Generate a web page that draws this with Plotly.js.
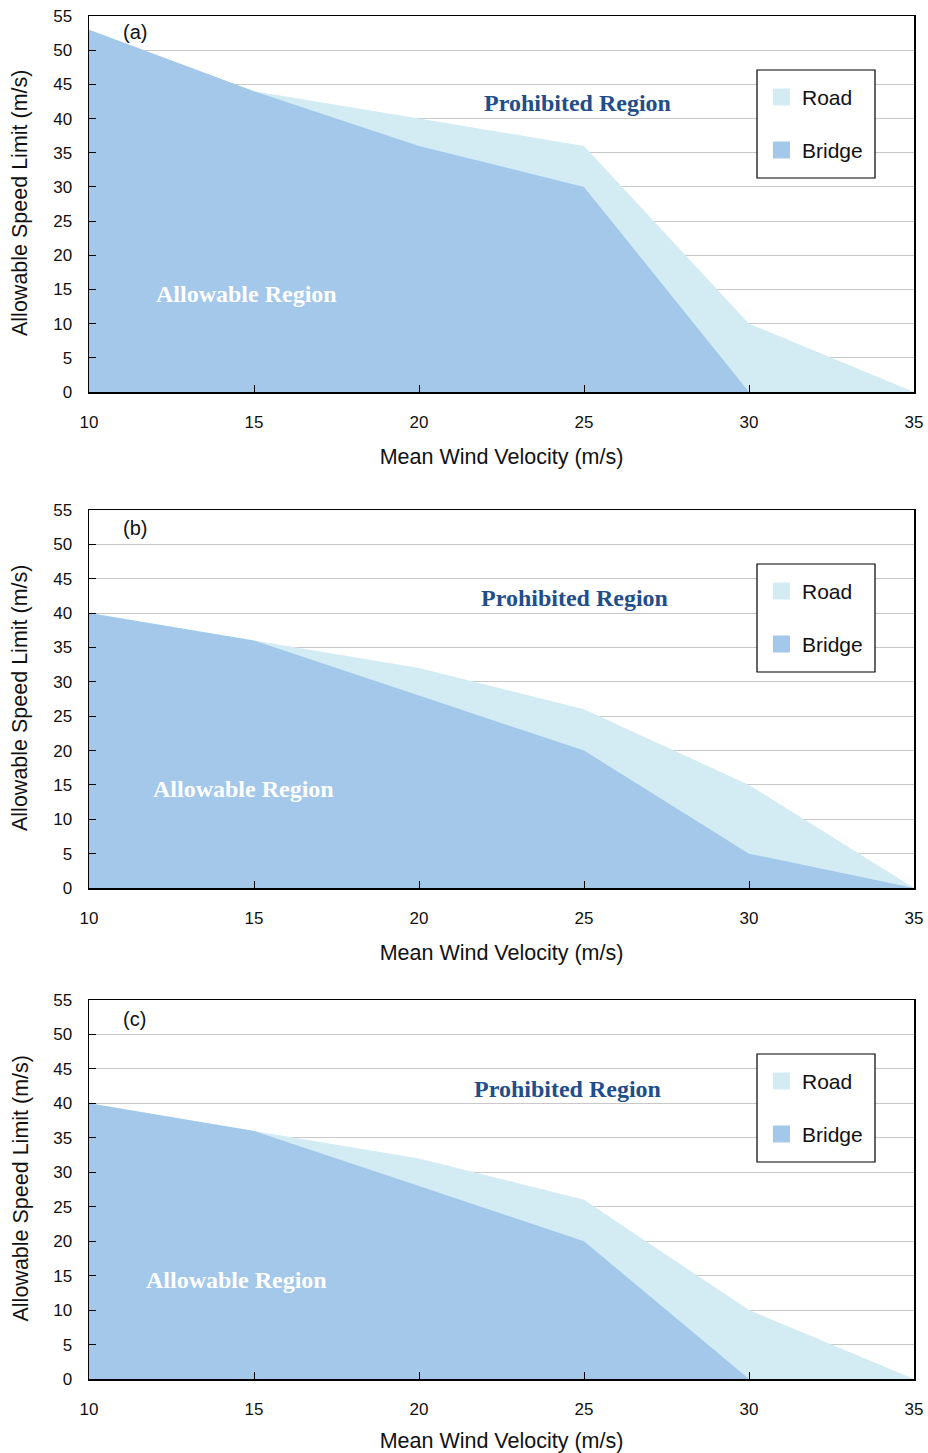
<!DOCTYPE html>
<html><head><meta charset="utf-8">
<script src="https://cdn.plot.ly/plotly-3.0.1.min.js"></script>
<style>html,body{margin:0;padding:0;background:#fff}#chart{width:928px;height:1453px}</style>
</head><body><div id="chart"></div>
<script>
// Data
const windVelocity = [10, 15, 20, 25, 30, 35];
const panelLabels = ['(a)', '(b)', '(c)'];
const roadA   = [53, 44, 40, 36, 10, 0];
const bridgeA = [53, 44, 36, 30, 0, 0];
const roadB   = [40, 36, 32, 26, 15, 0];
const bridgeB = [40, 36, 28, 20, 5, 0];
const roadC   = [40, 36, 32, 26, 10, 0];
const bridgeC = [40, 36, 28, 20, 0, 0];
const seriesNames = ['Road', 'Bridge'];
const xTicks = [10, 15, 20, 25, 30, 35];
const yTicks = [0, 5, 10, 15, 20, 25, 30, 35, 40, 45, 50, 55];
const xTitle = 'Mean Wind Velocity (m/s)';
const yTitle = 'Allowable Speed Limit (m/s)';

const roadColor = '#d3ecf3';
const bridgeColor = '#a3c8ea';
const FONT = 'Liberation Sans, Arial, Helvetica, sans-serif';
const SERIF = 'Liberation Serif, Times New Roman, serif';

const W = 928, H = 1453;
const mL = 89, mR = 14, mT = 16, mB = 74;
const plotH = H - mT - mB;
const px2x = px => (px - mL) / (W - mL - mR);
const px2y = py => (H - mB - py) / plotH;

const panels = [
  {road: roadA, bridge: bridgeA, top: 16, bottom: 392, prohib: [24.8, 42.3], allow: [14.76, 14.3], lab: 52.7},
  {road: roadB, bridge: bridgeB, top: 510, bottom: 888, prohib: [24.7, 42.2], allow: [14.67, 14.4], lab: 52.4},
  {road: roadC, bridge: bridgeC, top: 1000, bottom: 1379, prohib: [24.5, 42.1], allow: [14.48, 14.4], lab: 52.2}
];

const data = [];
const layout = {
  width: W, height: H,
  margin: {l: mL, r: mR, t: mT, b: mB},
  paper_bgcolor: '#fff', plot_bgcolor: '#fff',
  showlegend: false,
  font: {family: FONT, size: 17, color: '#111'},
  shapes: [], annotations: []
};

panels.forEach((p, i) => {
  const xa = i === 0 ? 'x' : 'x' + (i + 1);
  const ya = i === 0 ? 'y' : 'y' + (i + 1);
  const xk = i === 0 ? 'xaxis' : 'xaxis' + (i + 1);
  const yk = i === 0 ? 'yaxis' : 'yaxis' + (i + 1);
  data.push({x: windVelocity, y: p.road, type: 'scatter', mode: 'lines', fill: 'tozeroy',
    fillcolor: roadColor, line: {width: 0, color: roadColor}, name: seriesNames[0], xaxis: xa, yaxis: ya, hoverinfo: 'skip'});
  data.push({x: windVelocity, y: p.bridge, type: 'scatter', mode: 'lines', fill: 'tozeroy',
    fillcolor: bridgeColor, line: {width: 0, color: bridgeColor}, name: seriesNames[1], xaxis: xa, yaxis: ya, hoverinfo: 'skip'});

  layout[xk] = {
    domain: [0, 1], anchor: ya, range: [10, 35], tickvals: xTicks, ticktext: xTicks.map(String),
    ticks: 'inside', ticklen: 7, tickcolor: '#000', showline: true, linecolor: '#000', linewidth: 1.5,
    mirror: true, showgrid: false, zeroline: false, ticklabelstandoff: 14,
    tickfont: {family: FONT, size: 17, color: '#111'},
    title: {text: xTitle, font: {family: FONT, size: 21.5, color: '#111'}, standoff: 18}
  };
  layout[yk] = {
    domain: [px2y(p.bottom), px2y(p.top)], anchor: xa, range: [0, 55], tickvals: yTicks,
    ticks: 'inside', ticklen: 7, tickcolor: '#000', showline: true, linecolor: '#000', linewidth: 1.5,
    mirror: true, showgrid: true, gridcolor: '#c8c8c8', gridwidth: 1, zeroline: false, ticklabelstandoff: 12,
    tickfont: {family: FONT, size: 17, color: '#111'}
  };

  // y-axis title placed as annotation for exact position
  layout.annotations.push({xref: 'paper', yref: 'paper', x: px2x(20), y: px2y((p.top + p.bottom) / 2 - 1),
    xanchor: 'center', yanchor: 'middle', textangle: -90, text: yTitle, showarrow: false,
    font: {family: FONT, size: 21.5, color: '#111'}});

  layout.annotations.push({xref: xa, yref: ya, x: 11.39, y: p.lab, text: panelLabels[i],
    showarrow: false, font: {family: FONT, size: 20, color: '#111'}});
  layout.annotations.push({xref: xa, yref: ya, x: p.prohib[0], y: p.prohib[1], text: '<b>Prohibited Region</b>',
    showarrow: false, font: {family: SERIF, size: 24, color: '#1f4e8a'}});
  layout.annotations.push({xref: xa, yref: ya, x: p.allow[0], y: p.allow[1], text: '<b>Allowable Region</b>',
    showarrow: false, font: {family: SERIF, size: 24, color: '#ffffff'}});

  // legend (manual)
  const off = p.top - 16;
  layout.shapes.push({type: 'rect', xref: 'paper', yref: 'paper',
    x0: px2x(757), x1: px2x(875), y0: px2y(70 + off), y1: px2y(178 + off),
    line: {color: '#000', width: 1.2}, fillcolor: '#fff', layer: 'above'});
  [[97, roadColor, seriesNames[0]], [150, bridgeColor, seriesNames[1]]].forEach(([cy, col, nm]) => {
    layout.shapes.push({type: 'rect', xref: 'paper', yref: 'paper',
      x0: px2x(773), x1: px2x(790), y0: px2y(cy + off + 8.5), y1: px2y(cy + off - 8.5),
      line: {width: 0}, fillcolor: col, layer: 'above'});
    layout.annotations.push({xref: 'paper', yref: 'paper', x: px2x(800), y: px2y(cy + off), xanchor: 'left', yanchor: 'middle',
      text: nm, showarrow: false, font: {family: FONT, size: 21, color: '#111'}});
  });
});

Plotly.newPlot('chart', data, layout, {staticPlot: true});
</script></body></html>
